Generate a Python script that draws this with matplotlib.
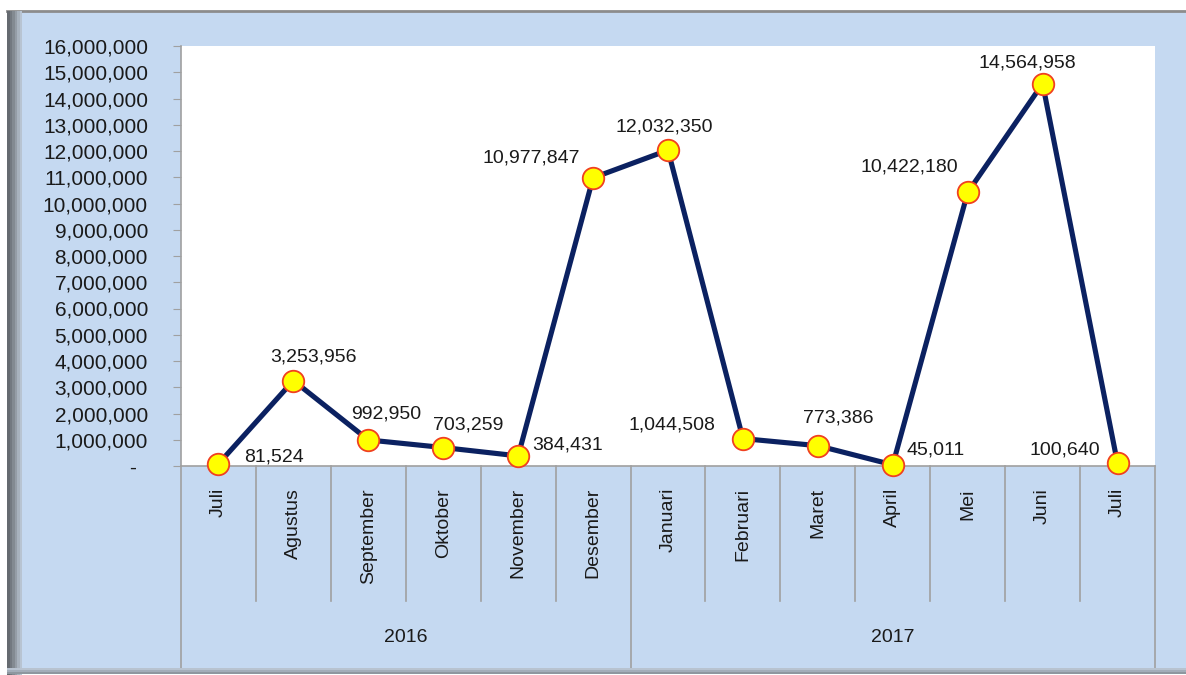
import matplotlib.pyplot as plt
import matplotlib.transforms as mtransforms
from matplotlib.patches import Rectangle
from matplotlib.lines import Line2D
from matplotlib.ticker import FuncFormatter

plt.rcParams['font.family'] = ['Liberation Sans', 'DejaVu Sans']

months = ['Juli', 'Agustus', 'September', 'Oktober', 'November', 'Desember',
          'Januari', 'Februari', 'Maret', 'April', 'Mei', 'Juni', 'Juli']
years = ['2016', '2017']
year_spans = [(0, 5), (6, 12)]
values = [81524, 3253956, 992950, 703259, 384431, 10977847, 12032350,
          1044508, 773386, 45011, 10422180, 14564958, 100640]

# label offsets in pixels (dx, dy) from each point
label_offsets = [(56, 7), (20, 24), (18, 26), (25, 23), (49, 11), (-62, 20),
                 (-4, 23), (-71, 14), (20, 28), (43, 15), (-58, 25), (-15, 21),
                 (-53, 13)]

W, H = 1186, 675
BLUE = '#C5D9F1'
GRID = '#A0A0A0'


def fx(px):
    return px / W


def fy(py):
    return 1 - py / H


fig = plt.figure(figsize=(W / 100, H / 100), dpi=100)
fig.patch.set_facecolor('white')

# outer chart frame
fig.add_artist(Rectangle((fx(7), fy(668)), 1 - fx(7), fy(11) - fy(668),
                         transform=fig.transFigure, facecolor=BLUE,
                         edgecolor='none', zorder=0))
fig.add_artist(Line2D([fx(7), 1], [fy(11), fy(11)], transform=fig.transFigure,
                      color='#8C8C8C', lw=2, zorder=1))
greys = ['#656A70', '#737980', '#838A91', '#959DA6', '#A8B2BD', '#B8C4D2']
for k, c in enumerate(greys):
    fig.add_artist(Rectangle((fx(7 + 2.5 * k), fy(675)), fx(2.7), fy(11) - fy(675),
                             transform=fig.transFigure, facecolor=c,
                             edgecolor='none', zorder=1))
bgreys = ['#B8C3D0', '#A3ADB9', '#8E979F']
for k, c in enumerate(bgreys):
    fig.add_artist(Rectangle((fx(7), fy(670 + 2 * k)), 1, fx(2.2) * W / H,
                             transform=fig.transFigure, facecolor=c,
                             edgecolor='none', zorder=1))

ax = fig.add_axes([fx(181), fy(466), fx(1155) - fx(181), fy(46) - fy(466)])
ax.set_facecolor('white')

x = list(range(len(months)))
ax.plot(x, values, color='#0B2161', lw=3.7, zorder=3, solid_joinstyle='round')
ax.plot(x, values, linestyle='none', marker='o', markersize=15.5,
        markerfacecolor='#FFFF00', markeredgecolor='#F04020',
        markeredgewidth=1.3, zorder=4, clip_on=False)

for xi, v, (dx, dy) in zip(x, values, label_offsets):
    ax.annotate(f'{v:,}', (xi, v), xytext=(dx, dy), textcoords='offset pixels',
                ha='center', va='center', fontsize=14, color='#1A1A1A',
                zorder=5, annotation_clip=False)

ax.set_xlim(-0.5, len(months) - 0.5)
ax.set_ylim(0, 16000000)
ax.set_yticks(range(0, 16000001, 1000000))
ax.yaxis.set_major_formatter(FuncFormatter(
    lambda v, p: '-  ' if v == 0 else f'{int(v):,}'))
ax.tick_params(axis='y', direction='out', length=5.8, color=GRID, pad=18,
               labelsize=15, labelcolor='#1A1A1A')
ax.set_xticks([])
for s in ['top', 'right']:
    ax.spines[s].set_visible(False)
for s in ['left', 'bottom']:
    ax.spines[s].set_color(GRID)
    ax.spines[s].set_linewidth(1.2)

# multi-level category axis
trans = mtransforms.blended_transform_factory(ax.transData, ax.transAxes)
ax_h = 420.0


def ay(py):
    return (466 - py) / ax_h


for xi, m in zip(x, months):
    ax.text(xi, ay(488), m, rotation=90, ha='center', va='top',
            fontsize=14, color='#1A1A1A', transform=trans)

year_edges = [s[0] - 0.5 for s in year_spans] + [year_spans[-1][1] + 0.5]
for b in range(len(months) + 1):
    xb = b - 0.5
    y_end = ay(668) if xb in year_edges else ay(601)
    ax.add_line(Line2D([xb, xb], [0, y_end], transform=trans, color=GRID,
                       lw=1.2, clip_on=False))

for yr, (a, b) in zip(years, year_spans):
    ax.text((a + b) / 2, ay(638), yr, ha='center', va='center', fontsize=14,
            color='#1A1A1A', transform=trans)

fig.savefig('out.png', dpi=100, facecolor=fig.get_facecolor())
